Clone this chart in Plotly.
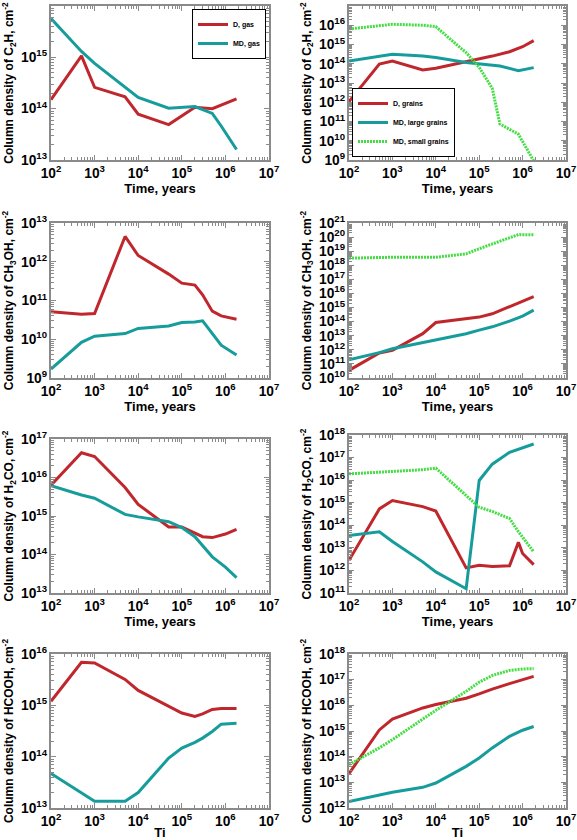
import plotly.graph_objects as go

# ---------------- data ----------------
# Panel 1: C2H gas
t_c2h_gas_D = [1e2, 5e2, 1e3, 5e3, 1e4, 5e4, 2e5, 5e5, 1.8e6]
c2h_gas_D = [1.5e14, 1.07e15, 2.6e14, 1.7e14, 7.8e13, 4.9e13, 1.06e14, 1.0e14, 1.55e14]
t_c2h_gas_MD = [1e2, 5e2, 1e3, 5e3, 1e4, 5e4, 1e5, 2e5, 5e5, 8e5, 1.8e6]
c2h_gas_MD = [5.7e15, 1.3e15, 7.6e14, 2.7e14, 1.66e14, 1.02e14, 1.05e14, 1.1e14, 8.1e13, 4.6e13, 1.6e13]

# Panel 2: C2H grains
t_c2h_gr_D = [1e2, 5e2, 1e3, 5e3, 1e4, 5e4, 1e5, 2e5, 5e5, 1e6, 1.8e6]
c2h_gr_D = [1.07e12, 9.7e13, 1.4e14, 4.7e13, 5.8e13, 1.3e14, 1.7e14, 2.5e14, 4.2e14, 7.7e14, 1.6e15]
t_c2h_gr_L = [1e2, 5e2, 1e3, 5e3, 1e4, 5e4, 1e5, 3e5, 8e5, 1.8e6]
c2h_gr_L = [1.4e14, 2.5e14, 3.1e14, 2.5e14, 2.1e14, 1.15e14, 9.7e13, 7.6e13, 4.4e13, 6.3e13]
t_c2h_gr_S = [1e2, 5e2, 1e3, 5e3, 1e4, 3e4, 5e4, 1e5, 2e5, 3e5, 5e5, 8e5, 1.8e6]
c2h_gr_S = [6.4e15, 9.5e15, 1.12e16, 1.0e16, 8.5e15, 1.0e15, 3.8e14, 6.5e13, 5.3e12, 7.4e10, 4e10, 2.2e10, 9e8]

# Panel 3: CH3OH gas
t_ch3oh_gas = [1e2, 5e2, 1e3, 5e3, 1e4, 5e4, 1e5, 2e5, 3e5, 5e5, 8e5, 1.8e6]
ch3oh_gas_D = [5.1e10, 4.4e10, 4.6e10, 4.5e12, 1.45e12, 4.8e11, 2.8e11, 2.5e11, 1.4e11, 5.3e10, 4.0e10, 3.3e10]
ch3oh_gas_MD = [1.7e9, 8.3e9, 1.2e10, 1.4e10, 1.9e10, 2.2e10, 2.7e10, 2.8e10, 3.0e10, 1.4e10, 7e9, 3.9e9]

# Panel 4: CH3OH grains
t_ch3oh_gr = [1e2, 5e2, 1e3, 5e3, 1e4, 5e4, 1e5, 2e5, 5e5, 1e6, 1.8e6]
ch3oh_gr_D = [3.5e10, 6e11, 9.3e11, 1.4e13, 8.7e13, 1.5e14, 2.1e14, 3.6e14, 1.1e15, 2.6e15, 5.9e15]
ch3oh_gr_L = [2e11, 6.3e11, 1.2e12, 3.3e12, 4.8e12, 1.4e13, 2.5e13, 4.3e13, 1.1e14, 2.5e14, 6.6e14]
t_ch3oh_gr_S = [1e2, 1e3, 1e4, 5e4, 1e5, 3e5, 8e5, 1.8e6]
ch3oh_gr_S = [3.2e18, 3.7e18, 3.7e18, 6.5e18, 1.5e19, 4.9e19, 1.5e20, 1.45e20]

# Panel 5: H2CO gas
t_h2co_gas_D = [1e2, 5e2, 1e3, 5e3, 1e4, 5e4, 1e5, 3e5, 5e5, 1e6, 1.8e6]
h2co_gas_D = [6.3e15, 4.4e16, 3.5e16, 5.5e15, 2.0e15, 5.2e14, 5.2e14, 2.9e14, 2.75e14, 3.4e14, 4.5e14]
t_h2co_gas_MD = [1e2, 5e2, 1e3, 5e3, 1e4, 5e4, 1e5, 2e5, 5e5, 1e6, 1.8e6]
h2co_gas_MD = [6.1e15, 3.5e15, 2.9e15, 1.1e15, 9.5e14, 7.1e14, 5e14, 2.9e14, 8.7e13, 4.7e13, 2.5e13]

# Panel 6: H2CO grains
t_h2co_gr_D = [1e2, 5e2, 1e3, 5e3, 1e4, 5e4, 1e5, 2e5, 5e5, 8e5, 1e6, 1.8e6]
h2co_gr_D = [2.8e12, 5.3e14, 1.25e15, 6.7e14, 4.3e14, 1.3e12, 1.7e12, 1.5e12, 1.6e12, 1.75e13, 5.6e12, 1.8e12]
t_h2co_gr_L = [1e2, 5e2, 1e3, 5e3, 1e4, 5e4, 1e5, 2e5, 5e5, 1e6, 1.8e6]
h2co_gr_L = [3.5e13, 5.2e13, 1.9e13, 2.4e12, 8.6e11, 1.55e11, 9.7e15, 5.1e16, 1.7e17, 2.6e17, 4e17]
t_h2co_gr_S = [1e2, 5e2, 1e3, 5e3, 1e4, 5e4, 1e5, 2e5, 5e5, 8e5, 1.8e6]
h2co_gr_S = [1.9e16, 2.3e16, 2.4e16, 2.9e16, 3.4e16, 2.2e15, 6.3e14, 4.1e14, 2e14, 5.2e13, 6.7e12]

# Panel 7: HCOOH gas
t_hcooh_gas = [1e2, 5e2, 1e3, 5e3, 1e4, 5e4, 1e5, 2e5, 3e5, 5e5, 8e5, 1.8e6]
hcooh_gas_D = [1.2e15, 6.9e15, 6.7e15, 3.2e15, 1.95e15, 9.8e14, 7.1e14, 6.1e14, 6.8e14, 8.3e14, 8.7e14, 8.7e14]
hcooh_gas_MD = [4.7e13, 2e13, 1.35e13, 1.35e13, 2e13, 9.4e13, 1.47e14, 1.9e14, 2.3e14, 3.1e14, 4.3e14, 4.5e14]

# Panel 8: HCOOH grains
t_hcooh_gr = [1e2, 5e2, 1e3, 5e3, 1e4, 5e4, 1e5, 2e5, 5e5, 1e6, 1.8e6]
hcooh_gr_D = [2.2e13, 1.1e15, 2.9e15, 7.9e15, 1.07e16, 1.9e16, 2.8e16, 4.3e16, 7e16, 1e17, 1.35e17]
hcooh_gr_L = [1.8e12, 3.1e12, 4.1e12, 6.4e12, 9.4e12, 4.2e13, 8.9e13, 2.2e14, 6.2e14, 1.07e15, 1.5e15]
hcooh_gr_S = [4.9e13, 2.2e14, 4.6e14, 2.8e15, 6.4e15, 3.5e16, 8e16, 1.45e17, 2.3e17, 2.6e17, 2.7e17]

y_titles = [
    "Column density of C<sub>2</sub>H, cm<sup>-2</sup>",
    "Column density of C<sub>2</sub>H, cm<sup>-2</sup>",
    "Column density of CH<sub>3</sub>OH, cm<sup>-2</sup>",
    "Column density of CH<sub>3</sub>OH, cm<sup>-2</sup>",
    "Column density of H<sub>2</sub>CO, cm<sup>-2</sup>",
    "Column density of H<sub>2</sub>CO, cm<sup>-2</sup>",
    "Column density of HCOOH, cm<sup>-2</sup>",
    "Column density of HCOOH, cm<sup>-2</sup>",
]
x_titles = ["Time, years", "Time, years", "Time, years", "Time, years",
            "Time, years", "Time, years", "Ti", "Ti"]
y_ranges = [(13, 16), (9, 17), (9, 13), (10, 21), (13, 17), (11, 18), (13, 16), (12, 18)]

# ---------------- styling ----------------
RED = "#c0272d"
TEAL = "#179c9c"
GREEN = "#44dd44"
GREEN_DASH = "2px,1px"
W, H = 577, 840
FONT = "Liberation Sans"

x_dom_l = (51 / W, 269 / W)
x_dom_r = (349 / W, 566 / W)
rows_px = [((6, 160), (6, 160)), ((223, 378), (223, 378)),
           ((439, 593), (435, 593)), ((654, 808), (654, 808))]

fig = go.Figure()


def add(ax_i, x, y, color, name=None, dash="solid", legend=None):
    fig.add_trace(go.Scatter(
        x=x, y=y, mode="lines",
        line=dict(color=color, width=3, dash=dash),
        name=name or "", showlegend=name is not None,
        legend=legend,
        xaxis="x" if ax_i == 1 else f"x{ax_i}",
        yaxis="y" if ax_i == 1 else f"y{ax_i}",
    ))


add(1, t_c2h_gas_D, c2h_gas_D, RED, "D, gas", legend="legend")
add(1, t_c2h_gas_MD, c2h_gas_MD, TEAL, "MD, gas", legend="legend")
add(2, t_c2h_gr_D, c2h_gr_D, RED, "D, grains", legend="legend2")
add(2, t_c2h_gr_L, c2h_gr_L, TEAL, "MD, large grains", legend="legend2")
add(2, t_c2h_gr_S, c2h_gr_S, GREEN, "MD, small grains", dash=GREEN_DASH, legend="legend2")
add(3, t_ch3oh_gas, ch3oh_gas_D, RED)
add(3, t_ch3oh_gas, ch3oh_gas_MD, TEAL)
add(4, t_ch3oh_gr, ch3oh_gr_D, RED)
add(4, t_ch3oh_gr, ch3oh_gr_L, TEAL)
add(4, t_ch3oh_gr_S, ch3oh_gr_S, GREEN, dash=GREEN_DASH)
add(5, t_h2co_gas_D, h2co_gas_D, RED)
add(5, t_h2co_gas_MD, h2co_gas_MD, TEAL)
add(6, t_h2co_gr_D, h2co_gr_D, RED)
add(6, t_h2co_gr_L, h2co_gr_L, TEAL)
add(6, t_h2co_gr_S, h2co_gr_S, GREEN, dash=GREEN_DASH)
add(7, t_hcooh_gas, hcooh_gas_D, RED)
add(7, t_hcooh_gas, hcooh_gas_MD, TEAL)
add(8, t_hcooh_gr, hcooh_gr_D, RED)
add(8, t_hcooh_gr, hcooh_gr_L, TEAL)
add(8, t_hcooh_gr, hcooh_gr_S, GREEN, dash=GREEN_DASH)

layout = {}
for i in range(8):
    r, c = divmod(i, 2)
    xd = x_dom_l if c == 0 else x_dom_r
    top, bot = rows_px[r][c]
    yd = (1 - bot / H, 1 - top / H)
    n = i + 1
    xk = "xaxis" if n == 1 else f"xaxis{n}"
    yk = "yaxis" if n == 1 else f"yaxis{n}"
    common = dict(
        type="log", showgrid=False, zeroline=False, automargin=False,
        showline=True, mirror="ticks", linecolor="#8a8a8a", linewidth=1.5,
        ticks="inside", ticklen=5, tickcolor="#8a8a8a", tickwidth=1,
        minor=dict(ticks="inside", ticklen=3, tickcolor="#8a8a8a", dtick="D1"),
        dtick=1, exponentformat="power",
        tickfont=dict(family=FONT, size=11, color="black", weight="bold"),
    )
    layout[xk] = dict(common, domain=list(xd), range=[2, 7],
                      anchor="y" if n == 1 else f"y{n}",
                      title=dict(text=x_titles[i], standoff=0,
                                 font=dict(family=FONT, size=13, color="black", weight="bold")))
    layout[yk] = dict(common, domain=list(yd), range=list(y_ranges[i]),
                      anchor="x" if n == 1 else f"x{n}",
                      title=dict(text=y_titles[i], standoff=5,
                                 font=dict(family=FONT, size=12, color="black", weight="bold")))

fig.update_layout(
    **layout,
    template="none",
    width=W, height=H,
    margin=dict(l=0, r=0, t=0, b=0),
    paper_bgcolor="white", plot_bgcolor="white",
    font=dict(family=FONT, color="black"),
    legend=dict(x=266 / W, y=1 - 9 / H, xanchor="right", yanchor="top",
                bordercolor="black", borderwidth=1, bgcolor="white",
                font=dict(family=FONT, size=7, weight="bold"),
                tracegroupgap=0, itemwidth=30),
    legend2=dict(x=352 / W, y=1 - 157 / H, xanchor="left", yanchor="bottom",
                 bordercolor="black", borderwidth=1, bgcolor="white",
                 font=dict(family=FONT, size=7, weight="bold"),
                 tracegroupgap=0, itemwidth=30),
)

# remove the browser's default 8px body margin so the figure sits at the page origin
fig.write_html("out.html", config={"displayModeBar": False},
               post_script="document.body.style.margin='0px';")
